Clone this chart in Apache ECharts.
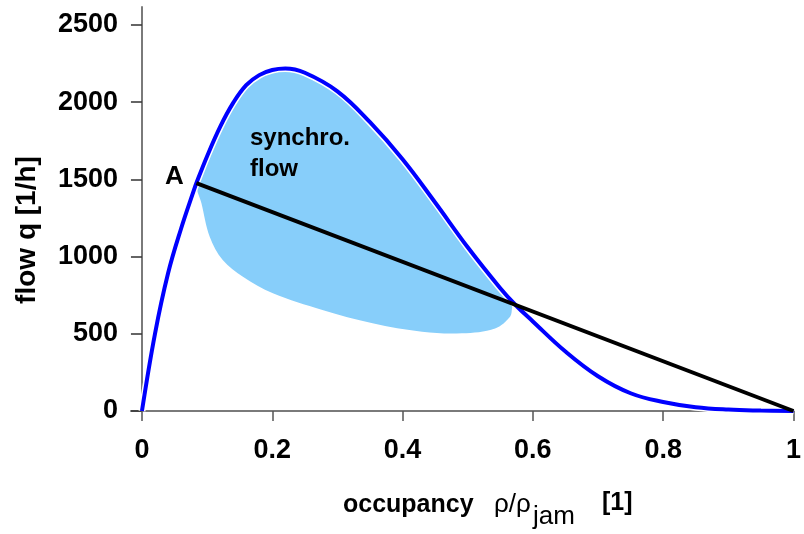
<!DOCTYPE html>
<html>
<head>
<meta charset="utf-8">
<script src="https://cdn.jsdelivr.net/npm/echarts@6/dist/echarts.min.js"></script>
<style>
html,body{margin:0;padding:0;background:#fff;}
#chart{width:804px;height:534px;}
</style>
</head>
<body>
<div id="chart"></div>
<script>
// Fundamental diagram curve (occupancy, flow)
const curveRho  = [0, 0.02, 0.04, 0.06, 0.08, 0.0836, 0.10, 0.12, 0.14, 0.16, 0.18, 0.20, 0.22, 0.25, 0.30, 0.35, 0.40, 0.45, 0.50, 0.55, 0.573, 0.60, 0.65, 0.70, 0.75, 0.80, 0.85, 0.90, 0.95, 1.0];
const curveFlow = [0, 500, 890, 1180, 1433, 1476, 1650, 1840, 1995, 2110, 2175, 2208, 2218, 2190, 2070, 1870, 1630, 1350, 1060, 795, 688, 580, 385, 225, 115, 58, 24, 9, 3, 0];
// Straight line from point A to jam density
const lineRho  = [0.0836, 1.0];
const lineFlow = [1476, 0];
// Synchronized flow region outline
const regionRho  = [0.0836, 0.10, 0.12, 0.14, 0.16, 0.18, 0.20, 0.22, 0.25, 0.30, 0.35, 0.40, 0.45, 0.50, 0.55, 0.569, 0.568, 0.565, 0.542, 0.491, 0.430, 0.354, 0.277, 0.201, 0.155, 0.124, 0.104, 0.0913];
const regionFlow = [1476, 1650, 1840, 1995, 2110, 2175, 2208, 2218, 2190, 2070, 1870, 1630, 1350, 1060, 795, 705, 665, 611, 535, 503, 513, 568, 654, 762, 870, 978, 1129, 1345];
// Tick values
const xTicks = [0, 0.2, 0.4, 0.6, 0.8, 1];
const yTicks = [0, 500, 1000, 1500, 2000, 2500];

const FONT = "'Liberation Sans', Arial, sans-serif";
const pairs = (a, b) => a.map((v, i) => [v, b[i]]);

const chart = echarts.init(document.getElementById('chart'), null, {renderer: 'canvas'});
chart.setOption({
  animation: false,
  backgroundColor: '#fff',
  grid: {left: 131, right: 7, top: 7, bottom: 123},
  xAxis: {
    type: 'value', min: -0.0168, max: 1,
    splitLine: {show: false},
    axisLine: {show: true, onZero: true, lineStyle: {color: '#7a7a7a', width: 2}},
    axisTick: {show: true, length: 10, customValues: xTicks, lineStyle: {color: '#555', width: 1.5}},
    axisLabel: {customValues: xTicks, margin: 26, color: '#000', fontFamily: FONT, fontWeight: 'bold', fontSize: 27,
                formatter: v => String(v)}
  },
  yAxis: {
    type: 'value', min: 0, max: 2616,
    splitLine: {show: false},
    axisLine: {show: true, onZero: true, lineStyle: {color: '#7a7a7a', width: 2}},
    axisTick: {show: true, length: 11, customValues: yTicks, lineStyle: {color: '#333', width: 1.5}},
    axisLabel: {customValues: yTicks, margin: 13, color: '#000', fontFamily: FONT, fontWeight: 'bold', fontSize: 27,
                formatter: v => String(v)}
  },
  series: [
    {
      type: 'custom', z: 1, clip: false,
      data: pairs(regionRho, regionFlow),
      renderItem: function (params, api) {
        if (params.dataIndex !== 0) return null;
        const pts = regionRho.map((r, i) => api.coord([r, regionFlow[i]]));
        return {type: 'polygon', shape: {points: pts, smooth: 0.35}, style: {fill: '#87CEFA'}};
      }
    },
    {
      type: 'line', z: 2, data: pairs(curveRho, curveFlow), smooth: 0.4,
      showSymbol: false, silent: true,
      lineStyle: {color: '#fff', width: 7}
    },
    {
      type: 'line', z: 3, data: pairs(curveRho, curveFlow), smooth: 0.4,
      showSymbol: false, silent: true,
      lineStyle: {color: '#0000ff', width: 4}
    },
    {
      type: 'line', z: 4, data: pairs(lineRho, lineFlow),
      showSymbol: false, silent: true,
      lineStyle: {color: '#000', width: 4}
    }
  ],
  graphic: [
    {type: 'text', z: 100, left: 165, top: 164, style: {text: 'A', font: "bold 26px " + FONT, fill: '#000'}},
    {type: 'text', z: 100, left: 250, top: 126, style: {text: 'synchro.', font: "bold 24px " + FONT, fill: '#000'}},
    {type: 'text', z: 100, left: 250, top: 157, style: {text: 'flow', font: "bold 24px " + FONT, fill: '#000'}},
    {type: 'text', z: 100, left: 343, top: 493, style: {text: 'occupancy', font: "bold 25px " + FONT, fill: '#000'}},
    {type: 'text', z: 100, left: 494, top: 492, style: {text: 'ρ/ρ', font: "26px " + FONT, fill: '#000'}},
    {type: 'text', z: 100, left: 533, top: 504, style: {text: 'jam', font: "26px " + FONT, fill: '#000'}},
    {type: 'text', z: 100, left: 602, top: 491, style: {text: '[1]', font: "bold 25px " + FONT, fill: '#000'}},
    {type: 'text', z: 100, x: 27, y: 230, rotation: Math.PI / 2,
     style: {text: 'flow q [1/h]', font: "bold 28px " + FONT, fill: '#000', align: 'center', verticalAlign: 'middle'}}
  ]
});
</script>
</body>
</html>
